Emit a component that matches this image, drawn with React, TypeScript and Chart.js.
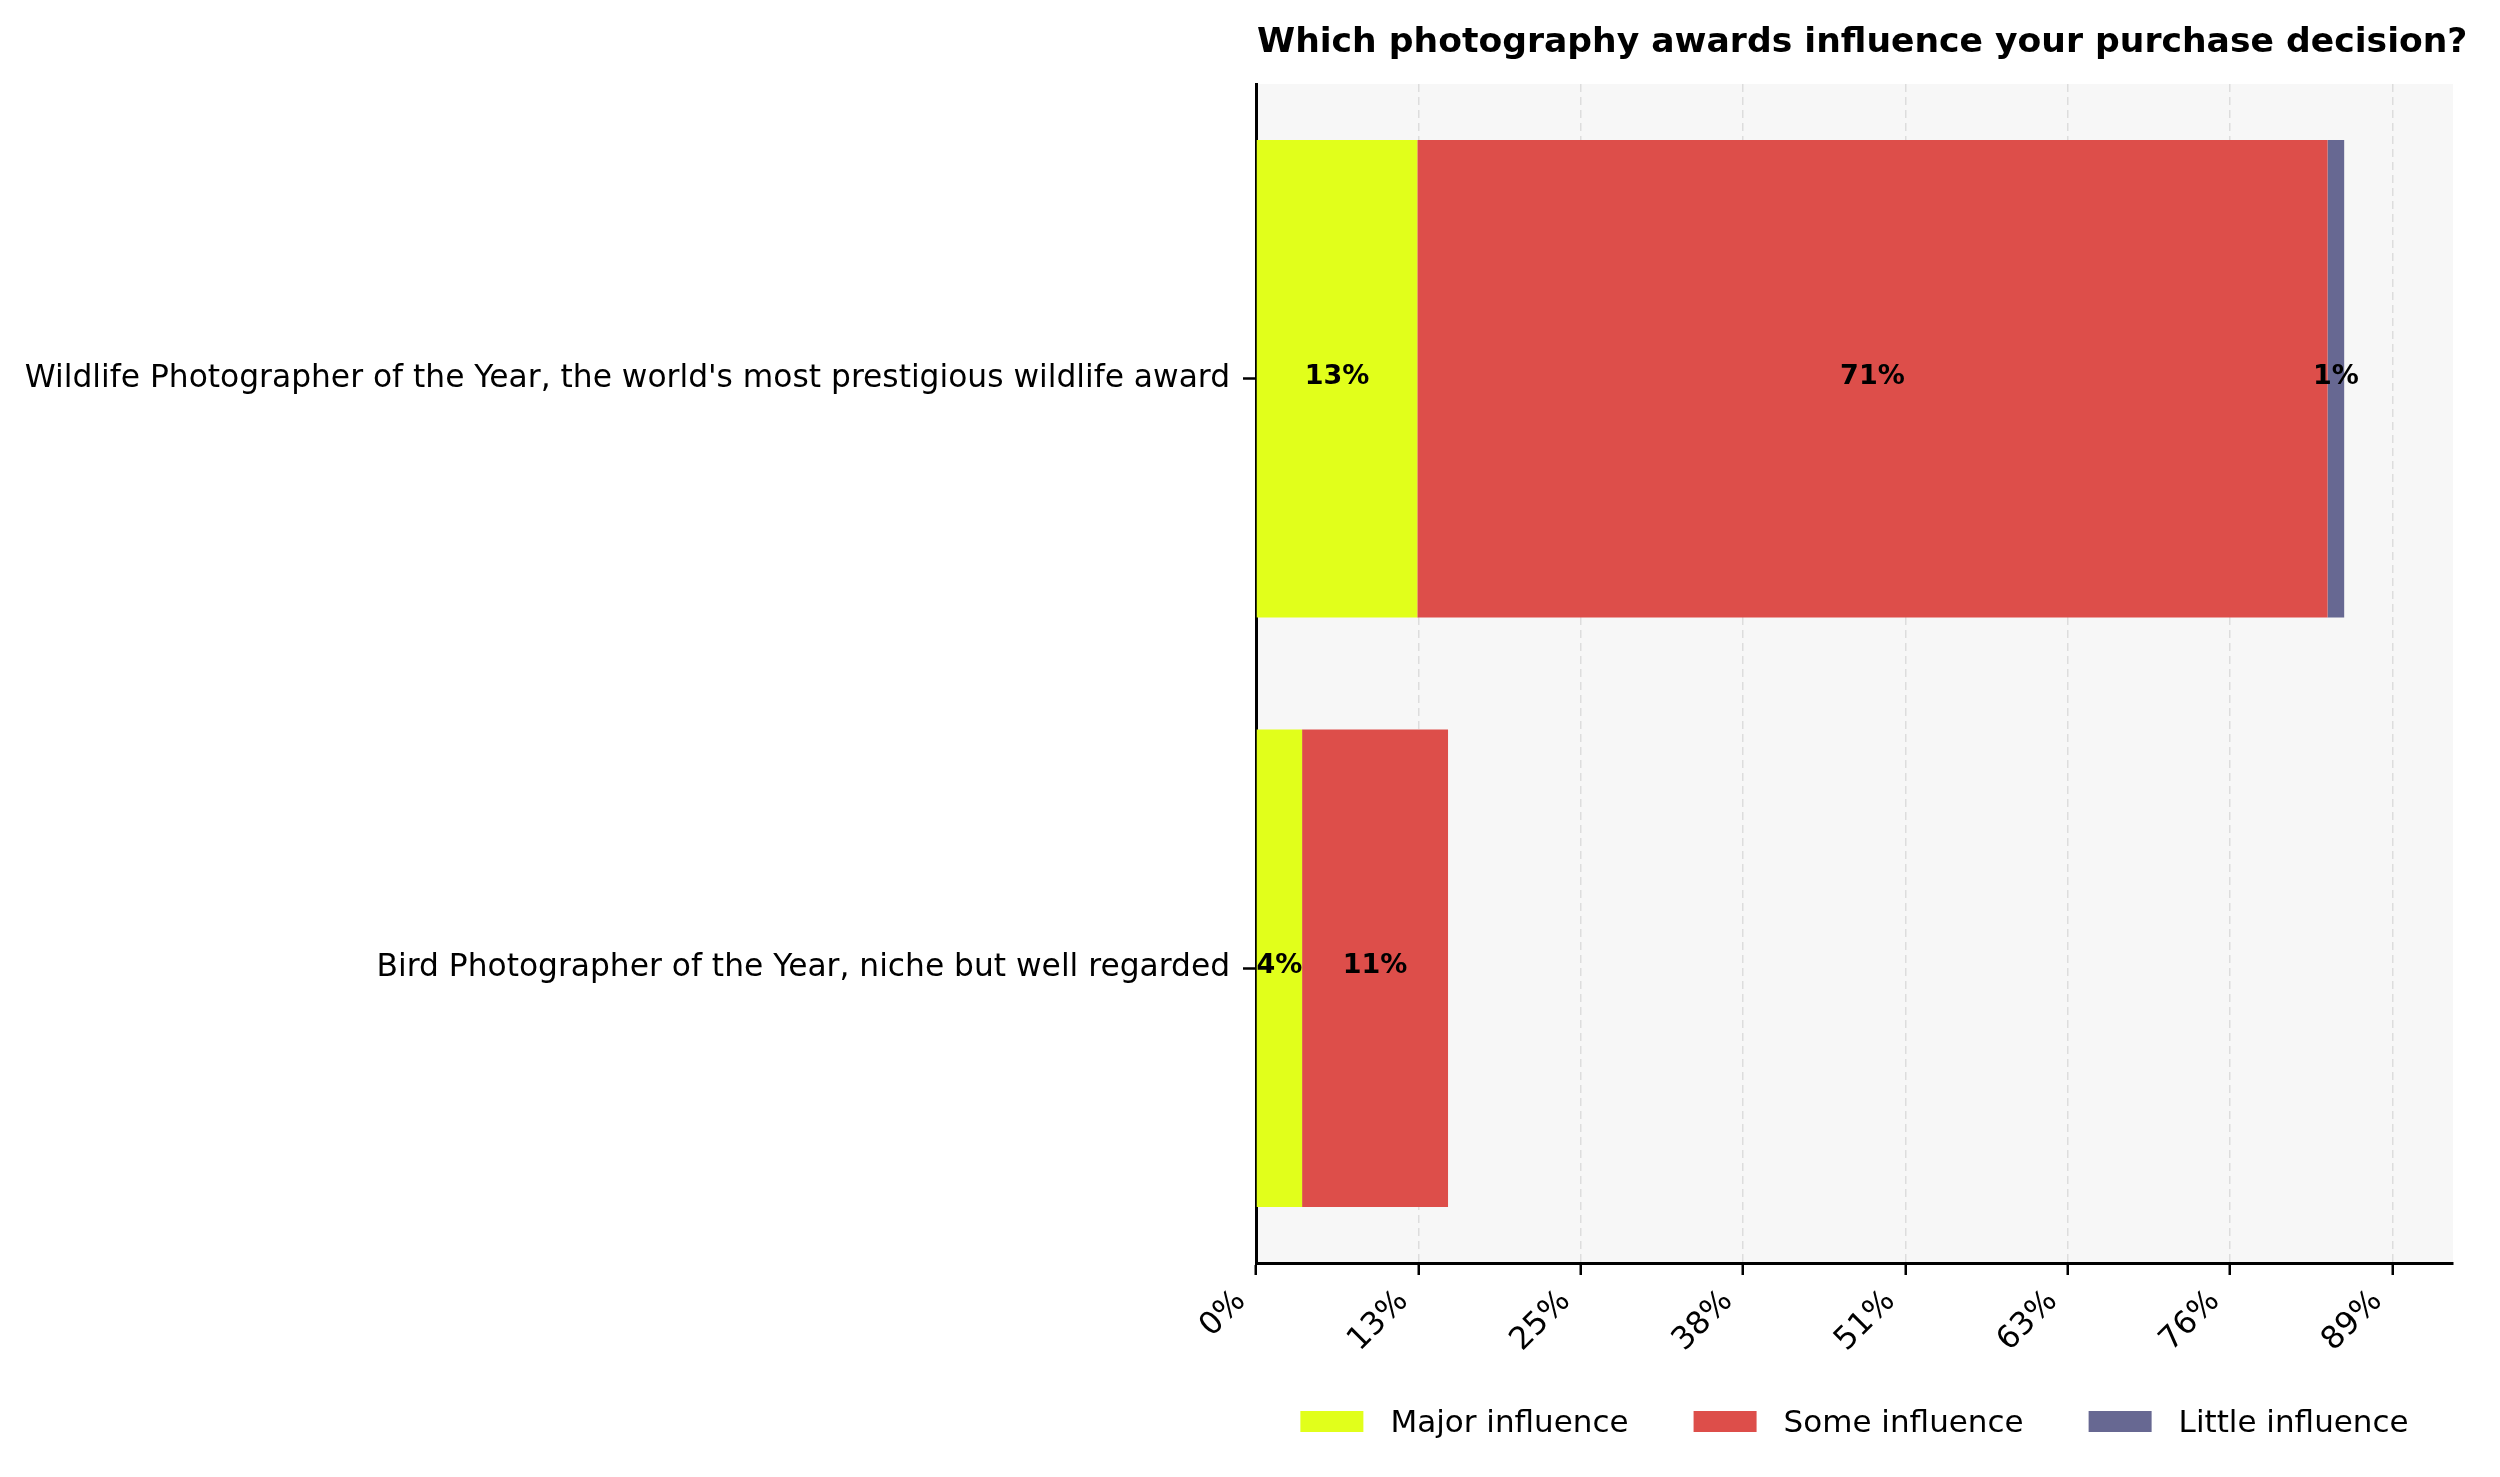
import React, { useEffect, useRef } from "react";
import { Chart, registerables } from "chart.js";

Chart.register(...registerables);

const categories = [
  "Wildlife Photographer of the Year, the world's most prestigious wildlife award",
  "Bird Photographer of the Year, niche but well regarded",
];
const seriesNames = ["Major influence", "Some influence", "Little influence"];
const majorInfluence = [12.6, 3.6];
const someInfluence = [71.1, 11.4];
const littleInfluence = [1.3, 0];
const seriesColors = ["#e1ff1b", "#dd4e4a", "#676892"];
const xTickValues = [0, 12.68, 25.36, 38.04, 50.72, 63.4, 76.08, 88.76];
const xTickLabels = ["0%", "13%", "25%", "38%", "51%", "63%", "76%", "89%"];
const xMax = 93.5;
const titleText = "Which photography awards influence your purchase decision?";

const FONT = "'DejaVu Sans', 'Liberation Sans', sans-serif";

const bgPlugin = {
  id: "plotBg",
  beforeDraw(chart: any) {
    const { ctx, chartArea } = chart;
    ctx.save();
    ctx.fillStyle = "#f7f7f7";
    ctx.fillRect(chartArea.left, chartArea.top, chartArea.right - chartArea.left, chartArea.bottom - chartArea.top);
    ctx.restore();
  },
};

const labelPlugin = {
  id: "barLabels",
  afterDatasetsDraw(chart: any) {
    const { ctx } = chart;
    ctx.save();
    ctx.font = `bold 27px ${FONT}`;
    ctx.fillStyle = "#000";
    ctx.textAlign = "center";
    ctx.textBaseline = "middle";
    chart.data.datasets.forEach((ds: any, di: number) => {
      const meta = chart.getDatasetMeta(di);
      meta.data.forEach((bar: any, i: number) => {
        const v = ds.data[i];
        if (!v || v <= 0) return;
        const cx = (bar.x + bar.base) / 2;
        ctx.fillText(`${Math.round(v)}%`, cx, bar.y - 2);
      });
    });
    ctx.restore();
  },
};

// Title drawn left-aligned with the plot area, not squeezed to its width
const titlePlugin = {
  id: "plotTitle",
  afterDraw(chart: any) {
    const { ctx, chartArea } = chart;
    ctx.save();
    ctx.font = `bold 34.6px ${FONT}`;
    ctx.fillStyle = "#000";
    ctx.textAlign = "left";
    ctx.textBaseline = "alphabetic";
    ctx.fillText(titleText, chartArea.left + 1, 52);
    ctx.restore();
  },
};

// Legend drawn below the axis, centred under the plot area
const legendPlugin = {
  id: "bottomLegend",
  afterDraw(chart: any) {
    const { ctx, chartArea } = chart;
    const boxW = 63;
    const boxH = 21;
    const textGap = 27;
    const colGap = 65;
    const baseline = 1432;
    ctx.save();
    ctx.font = `31px ${FONT}`;
    ctx.textAlign = "left";
    ctx.textBaseline = "alphabetic";
    const items = chart.data.datasets.map((ds: any) => ({
      text: ds.label as string,
      color: ds.backgroundColor as string,
      w: ctx.measureText(ds.label).width,
    }));
    const total =
      items.reduce((acc: number, it: any) => acc + boxW + textGap + it.w, 0) + colGap * (items.length - 1);
    let x = (chartArea.left + chartArea.right) / 2 - total / 2;
    items.forEach((it: any) => {
      ctx.fillStyle = it.color;
      ctx.fillRect(x, baseline - boxH, boxW, boxH);
      ctx.fillStyle = "#000";
      ctx.fillText(it.text, x + boxW + textGap, baseline);
      x += boxW + textGap + it.w + colGap;
    });
    ctx.restore();
  },
};

export default function App() {
  const ref = useRef<HTMLCanvasElement | null>(null);
  useEffect(() => {
    document.body.style.margin = "0";
    Chart.defaults.font.family = FONT;
    const seriesData = [majorInfluence, someInfluence, littleInfluence];
    const chart = new Chart(ref.current as HTMLCanvasElement, {
      type: "bar",
      data: {
        labels: categories,
        datasets: seriesNames.map((name, k) => ({
          label: name,
          data: seriesData[k],
          backgroundColor: seriesColors[k],
          borderWidth: 0,
          barPercentage: 0.81,
          categoryPercentage: 1.0,
        })),
      },
      options: {
        indexAxis: "y",
        animation: false,
        responsive: false,
        devicePixelRatio: 1,
        layout: { padding: { left: 0, right: 47, top: 84, bottom: 54 } },
        scales: {
          x: {
            type: "linear",
            stacked: true,
            min: 0,
            max: xMax,
            position: "bottom",
            afterBuildTicks: (s: any) => {
              s.ticks = xTickValues.map((v) => ({ value: v }));
            },
            afterFit: (s: any) => {
              s.height = 160;
            },
            ticks: {
              autoSkip: false,
              minRotation: 45,
              maxRotation: 45,
              font: { size: 31.5 },
              color: "#000",
              padding: 8,
              labelOffset: -15,
              callback: (_v: any, i: number) => xTickLabels[i],
            },
            grid: {
              color: "#dddddd",
              lineWidth: 1.5,
              drawOnChartArea: true,
              drawTicks: true,
              tickLength: 12,
              tickWidth: 2.5,
              tickColor: "#000",
              tickBorderDash: [],
            },
            border: { display: true, color: "#000", width: 3, dash: [8, 5] },
          },
          y: {
            type: "category",
            stacked: true,
            position: "left",
            afterFit: (s: any) => {
              s.width = 1256;
            },
            ticks: { font: { size: 31.3 }, color: "#000", padding: 13 },
            grid: {
              offset: false,
              drawOnChartArea: false,
              drawTicks: true,
              tickLength: 13,
              tickWidth: 2.5,
              tickColor: "#000",
            },
            border: { display: true, color: "#000", width: 3 },
          },
        },
        plugins: {
          legend: { display: false },
          title: { display: false },
          tooltip: { enabled: false },
        },
      },
      plugins: [bgPlugin, labelPlugin, titlePlugin, legendPlugin],
    } as any);
    return () => chart.destroy();
  }, []);
  return (
    <div style={{ position: "fixed", left: 0, top: 0, width: 2500, height: 1477, background: "#fff" }}>
      <canvas ref={ref} width={2500} height={1477} style={{ width: 2500, height: 1477, display: "block" }} />
    </div>
  );
}
